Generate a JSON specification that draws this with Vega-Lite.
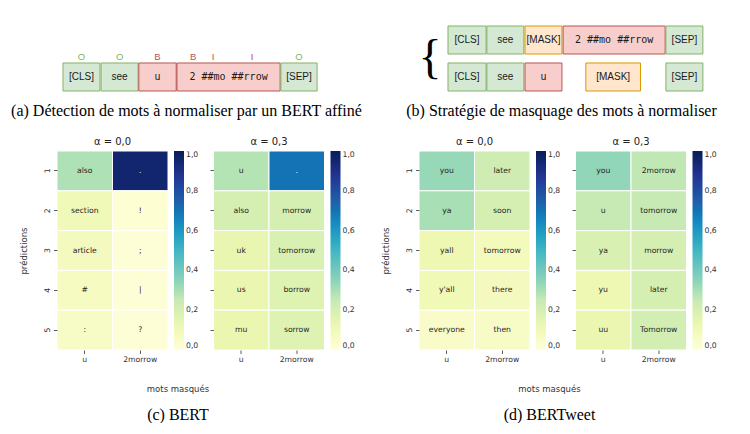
{
  "$schema": "https://vega.github.io/schema/vega-lite/v6.json",
  "background": "white",
  "padding": 0,
  "datasets": {
    "tokA": [
      {"token": "[CLS]", "ligne": "2", "debut": 0, "fin": 0.96, "type": "garde"},
      {"token": "see", "ligne": "2", "debut": 0.99, "fin": 1.95, "type": "garde"},
      {"token": "u", "ligne": "2", "debut": 1.97, "fin": 2.94, "type": "normaliser"},
      {"token": "2 ##mo ##rrow", "ligne": "2", "debut": 2.96, "fin": 5.64, "type": "normaliser"},
      {"token": "[SEP]", "ligne": "2", "debut": 5.66, "fin": 6.6, "type": "garde"}
    ],
    "bio": [
      {"etiquette": "O", "ligne": "2", "pos": 0.48, "classe": "O"},
      {"etiquette": "O", "ligne": "2", "pos": 1.47, "classe": "O"},
      {"etiquette": "B", "ligne": "2", "pos": 2.45, "classe": "BI"},
      {"etiquette": "B", "ligne": "2", "pos": 3.38, "classe": "BI"},
      {"etiquette": "I", "ligne": "2", "pos": 3.9, "classe": "BI"},
      {"etiquette": "I", "ligne": "2", "pos": 4.91, "classe": "BI"},
      {"etiquette": "O", "ligne": "2", "pos": 6.13, "classe": "O"}
    ],
    "tokB": [
      {"token": "[CLS]", "ligne": "1", "debut": 0, "fin": 0.99, "type": "garde"},
      {"token": "see", "ligne": "1", "debut": 1.01, "fin": 1.97, "type": "garde"},
      {"token": "[MASK]", "ligne": "1", "debut": 2.0, "fin": 2.96, "type": "masque"},
      {"token": "2 ##mo ##rrow", "ligne": "1", "debut": 2.99, "fin": 5.64, "type": "normaliser"},
      {"token": "[SEP]", "ligne": "1", "debut": 5.66, "fin": 6.62, "type": "garde"},
      {"token": "[CLS]", "ligne": "2", "debut": 0, "fin": 0.99, "type": "garde"},
      {"token": "see", "ligne": "2", "debut": 1.01, "fin": 1.97, "type": "garde"},
      {"token": "u", "ligne": "2", "debut": 2.0, "fin": 2.96, "type": "normaliser"},
      {"token": "[MASK]", "ligne": "2", "debut": 3.58, "fin": 5.0, "type": "masque"},
      {"token": "[SEP]", "ligne": "2", "debut": 5.66, "fin": 6.62, "type": "garde"}
    ],
    "accolade": [
      {"signe": "{", "ligne": "1", "pos": -0.47}
    ],
    "heat": [
      {"modele": "BERT", "alpha": "0,0", "masque": "u", "rang": 1, "pred": "also", "prob": 0.29},
      {"modele": "BERT", "alpha": "0,0", "masque": "u", "rang": 2, "pred": "section", "prob": 0.1},
      {"modele": "BERT", "alpha": "0,0", "masque": "u", "rang": 3, "pred": "article", "prob": 0.08},
      {"modele": "BERT", "alpha": "0,0", "masque": "u", "rang": 4, "pred": "#", "prob": 0.07},
      {"modele": "BERT", "alpha": "0,0", "masque": "u", "rang": 5, "pred": ":", "prob": 0.06},
      {"modele": "BERT", "alpha": "0,0", "masque": "2morrow", "rang": 1, "pred": ".", "prob": 0.95},
      {"modele": "BERT", "alpha": "0,0", "masque": "2morrow", "rang": 2, "pred": "!", "prob": 0.02},
      {"modele": "BERT", "alpha": "0,0", "masque": "2morrow", "rang": 3, "pred": ";", "prob": 0.01},
      {"modele": "BERT", "alpha": "0,0", "masque": "2morrow", "rang": 4, "pred": "|", "prob": 0.01},
      {"modele": "BERT", "alpha": "0,0", "masque": "2morrow", "rang": 5, "pred": "?", "prob": 0.01},
      {"modele": "BERT", "alpha": "0,3", "masque": "u", "rang": 1, "pred": "u", "prob": 0.28},
      {"modele": "BERT", "alpha": "0,3", "masque": "u", "rang": 2, "pred": "also", "prob": 0.2},
      {"modele": "BERT", "alpha": "0,3", "masque": "u", "rang": 3, "pred": "uk", "prob": 0.14},
      {"modele": "BERT", "alpha": "0,3", "masque": "u", "rang": 4, "pred": "us", "prob": 0.13},
      {"modele": "BERT", "alpha": "0,3", "masque": "u", "rang": 5, "pred": "mu", "prob": 0.13},
      {"modele": "BERT", "alpha": "0,3", "masque": "2morrow", "rang": 1, "pred": ".", "prob": 0.7},
      {"modele": "BERT", "alpha": "0,3", "masque": "2morrow", "rang": 2, "pred": "morrow", "prob": 0.2},
      {"modele": "BERT", "alpha": "0,3", "masque": "2morrow", "rang": 3, "pred": "tomorrow", "prob": 0.19},
      {"modele": "BERT", "alpha": "0,3", "masque": "2morrow", "rang": 4, "pred": "borrow", "prob": 0.17},
      {"modele": "BERT", "alpha": "0,3", "masque": "2morrow", "rang": 5, "pred": "sorrow", "prob": 0.17},
      {"modele": "BERTweet", "alpha": "0,0", "masque": "u", "rang": 1, "pred": "you", "prob": 0.33},
      {"modele": "BERTweet", "alpha": "0,0", "masque": "u", "rang": 2, "pred": "ya", "prob": 0.3},
      {"modele": "BERTweet", "alpha": "0,0", "masque": "u", "rang": 3, "pred": "yall", "prob": 0.12},
      {"modele": "BERTweet", "alpha": "0,0", "masque": "u", "rang": 4, "pred": "y'all", "prob": 0.11},
      {"modele": "BERTweet", "alpha": "0,0", "masque": "u", "rang": 5, "pred": "everyone", "prob": 0.05},
      {"modele": "BERTweet", "alpha": "0,0", "masque": "2morrow", "rang": 1, "pred": "later", "prob": 0.22},
      {"modele": "BERTweet", "alpha": "0,0", "masque": "2morrow", "rang": 2, "pred": "soon", "prob": 0.2},
      {"modele": "BERTweet", "alpha": "0,0", "masque": "2morrow", "rang": 3, "pred": "tomorrow", "prob": 0.09},
      {"modele": "BERTweet", "alpha": "0,0", "masque": "2morrow", "rang": 4, "pred": "there", "prob": 0.08},
      {"modele": "BERTweet", "alpha": "0,0", "masque": "2morrow", "rang": 5, "pred": "then", "prob": 0.06},
      {"modele": "BERTweet", "alpha": "0,3", "masque": "u", "rang": 1, "pred": "you", "prob": 0.34},
      {"modele": "BERTweet", "alpha": "0,3", "masque": "u", "rang": 2, "pred": "u", "prob": 0.25},
      {"modele": "BERTweet", "alpha": "0,3", "masque": "u", "rang": 3, "pred": "ya", "prob": 0.19},
      {"modele": "BERTweet", "alpha": "0,3", "masque": "u", "rang": 4, "pred": "yu", "prob": 0.12},
      {"modele": "BERTweet", "alpha": "0,3", "masque": "u", "rang": 5, "pred": "uu", "prob": 0.13},
      {"modele": "BERTweet", "alpha": "0,3", "masque": "2morrow", "rang": 1, "pred": "2morrow", "prob": 0.26},
      {"modele": "BERTweet", "alpha": "0,3", "masque": "2morrow", "rang": 2, "pred": "tomorrow", "prob": 0.25},
      {"modele": "BERTweet", "alpha": "0,3", "masque": "2morrow", "rang": 3, "pred": "morrow", "prob": 0.2},
      {"modele": "BERTweet", "alpha": "0,3", "masque": "2morrow", "rang": 4, "pred": "later", "prob": 0.2},
      {"modele": "BERTweet", "alpha": "0,3", "masque": "2morrow", "rang": 5, "pred": "Tomorrow", "prob": 0.21}
    ]
  },
  "vconcat": [
    {
      "hconcat": [
        {
          "width": 317,
          "height": 100,
          "title": {"text": "(a) Détection de mots à normaliser par un BERT affiné", "orient": "bottom", "anchor": "middle", "font": "Liberation Serif", "fontSize": 16, "fontWeight": "normal", "color": "black", "offset": 3, "dx": -29},
          "encoding": {
            "y": {"field": "ligne", "type": "ordinal", "scale": {"domain": ["1", "2"], "range": [26, 91], "paddingInner": 0.243, "paddingOuter": 0}, "axis": null}
          },
          "layer": [
            {
              "data": {"name": "tokA"},
              "mark": {"type": "rect", "strokeWidth": 1},
              "encoding": {
                "x": {"field": "debut", "type": "quantitative", "scale": {"domain": [-0.156, 8.078]}, "axis": null},
                "x2": {"field": "fin"},
                "fill": {"field": "type", "type": "nominal", "scale": {"domain": ["garde", "normaliser", "masque"], "range": ["#d5e8d4", "#f8cecc", "#ffe6cc"]}, "legend": null},
                "stroke": {"field": "type", "type": "nominal", "scale": {"domain": ["garde", "normaliser", "masque"], "range": ["#82b366", "#b85450", "#d79b00"]}, "legend": null}
              }
            },
            {
              "data": {"name": "tokA"},
              "transform": [{"filter": "datum.token !== '2 ##mo ##rrow'"}, {"calculate": "(datum.debut + datum.fin) / 2", "as": "milieu"}],
              "mark": {"type": "text", "font": "Liberation Sans", "fontSize": 10, "color": "#1a1a1a"},
              "encoding": {
                "x": {"field": "milieu", "type": "quantitative", "scale": {"domain": [-0.156, 8.078]}, "axis": null},
                "text": {"field": "token"}
              }
            },
            {
              "data": {"name": "tokA"},
              "transform": [{"filter": "datum.token === '2 ##mo ##rrow'"}, {"calculate": "(datum.debut + datum.fin) / 2", "as": "milieu"}],
              "mark": {"type": "text", "font": "DejaVu Sans Mono", "fontSize": 10, "color": "#1a1a1a"},
              "encoding": {
                "x": {"field": "milieu", "type": "quantitative", "scale": {"domain": [-0.156, 8.078]}, "axis": null},
                "text": {"field": "token"}
              }
            },
            {
              "data": {"name": "bio"},
              "mark": {"type": "text", "font": "Liberation Sans", "fontSize": 9.5, "baseline": "bottom", "dy": -1},
              "encoding": {
                "x": {"field": "pos", "type": "quantitative", "scale": {"domain": [-0.156, 8.078]}, "axis": null},
                "y": {"field": "ligne", "type": "ordinal", "bandPosition": 0, "scale": {"domain": ["1", "2"], "range": [26, 91], "paddingInner": 0.243, "paddingOuter": 0}, "axis": null},
                "text": {"field": "etiquette"},
                "color": {"field": "classe", "type": "nominal", "scale": {"domain": ["O", "BI"], "range": ["#82b366", "#b85450"]}, "legend": null}
              }
            }
          ]
        },
        {
          "width": 375,
          "height": 100,
          "title": {"text": "(b) Stratégie de masquage des mots à normaliser", "orient": "bottom", "anchor": "middle", "font": "Liberation Serif", "fontSize": 16, "fontWeight": "normal", "color": "black", "offset": 3},
          "encoding": {
            "y": {"field": "ligne", "type": "ordinal", "scale": {"domain": ["1", "2"], "range": [26, 91], "paddingInner": 0.243, "paddingOuter": 0}, "axis": null}
          },
          "layer": [
            {
              "data": {"name": "tokB"},
              "mark": {"type": "rect", "strokeWidth": 1},
              "encoding": {
                "x": {"field": "debut", "type": "quantitative", "scale": {"domain": [-1.922, 7.818]}, "axis": null},
                "x2": {"field": "fin"},
                "fill": {"field": "type", "type": "nominal", "scale": {"domain": ["garde", "normaliser", "masque"], "range": ["#d5e8d4", "#f8cecc", "#ffe6cc"]}, "legend": null},
                "stroke": {"field": "type", "type": "nominal", "scale": {"domain": ["garde", "normaliser", "masque"], "range": ["#82b366", "#b85450", "#d79b00"]}, "legend": null}
              }
            },
            {
              "data": {"name": "tokB"},
              "transform": [{"filter": "datum.token !== '2 ##mo ##rrow'"}, {"calculate": "(datum.debut + datum.fin) / 2", "as": "milieu"}],
              "mark": {"type": "text", "font": "Liberation Sans", "fontSize": 10, "color": "#1a1a1a"},
              "encoding": {
                "x": {"field": "milieu", "type": "quantitative", "scale": {"domain": [-1.922, 7.818]}, "axis": null},
                "text": {"field": "token"}
              }
            },
            {
              "data": {"name": "tokB"},
              "transform": [{"filter": "datum.token === '2 ##mo ##rrow'"}, {"calculate": "(datum.debut + datum.fin) / 2", "as": "milieu"}],
              "mark": {"type": "text", "font": "DejaVu Sans Mono", "fontSize": 10, "color": "#1a1a1a"},
              "encoding": {
                "x": {"field": "milieu", "type": "quantitative", "scale": {"domain": [-1.922, 7.818]}, "axis": null},
                "text": {"field": "token"}
              }
            },
            {
              "data": {"name": "accolade"},
              "mark": {"type": "text", "font": "Liberation Serif", "fontSize": 48, "baseline": "middle", "color": "black", "dy": 5},
              "encoding": {
                "x": {"field": "pos", "type": "quantitative", "scale": {"domain": [-1.922, 7.818]}, "axis": null},
                "y": {"field": "ligne", "type": "ordinal", "bandPosition": 1, "scale": {"domain": ["1", "2"], "range": [26, 91], "paddingInner": 0.243, "paddingOuter": 0}, "axis": null},
                "text": {"field": "signe"}
              }
            }
          ]
        }
      ],
      "spacing": 0
    },
    {
      "hconcat": [
        {
          "hconcat": [
            {
              "width": 111,
              "height": 199,
              "title": {"text": "α = 0,0"},
              "data": {"name": "heat"},
              "transform": [{"filter": "datum.modele === 'BERT' && datum.alpha === '0,0'"}],
              "encoding": {
                "x": {"field": "masque", "type": "nominal", "sort": ["u", "2morrow"], "scale": {"paddingInner": 0, "paddingOuter": 0}, "axis": {"title": null, "labelAngle": 0}},
                "y": {"field": "rang", "type": "ordinal", "scale": {"paddingInner": 0, "paddingOuter": 0}, "axis": {"title": ["", "prédictions"], "titleLineHeight": 19, "labelAngle": -90, "titlePadding": 15}}
              },
              "layer": [
                {"mark": {"type": "rect", "stroke": "white", "strokeWidth": 1}, "encoding": {"color": {"field": "prob", "type": "quantitative", "scale": {"domain": [0, 0.125, 0.25, 0.375, 0.5, 0.625, 0.75, 0.875, 1], "range": ["#ffffd9", "#edf8b1", "#c7e9b4", "#7fcdbb", "#41b6c4", "#1d91c0", "#225ea8", "#253494", "#081d58"]}, "legend": {"title": null, "values": [0, 0.2, 0.4, 0.6, 0.8, 1], "labelExpr": "replace(format(datum.value, '.1f'), '.', ',')"}}}},
                {"mark": {"type": "text", "font": "DejaVu Sans", "fontSize": 7.7}, "encoding": {"text": {"field": "pred"}, "color": {"condition": {"test": "datum.prob > 0.5", "value": "white"}, "value": "#262626"}}}
              ]
            },
            {
              "width": 111,
              "height": 199,
              "title": {"text": "α = 0,3"},
              "data": {"name": "heat"},
              "transform": [{"filter": "datum.modele === 'BERT' && datum.alpha === '0,3'"}],
              "encoding": {
                "x": {"field": "masque", "type": "nominal", "sort": ["u", "2morrow"], "scale": {"paddingInner": 0, "paddingOuter": 0}, "axis": {"title": null, "labelAngle": 0}},
                "y": {"field": "rang", "type": "ordinal", "scale": {"paddingInner": 0, "paddingOuter": 0}, "axis": {"title": null, "labels": false}}
              },
              "layer": [
                {"mark": {"type": "rect", "stroke": "white", "strokeWidth": 1}, "encoding": {"color": {"field": "prob", "type": "quantitative", "scale": {"domain": [0, 0.125, 0.25, 0.375, 0.5, 0.625, 0.75, 0.875, 1], "range": ["#ffffd9", "#edf8b1", "#c7e9b4", "#7fcdbb", "#41b6c4", "#1d91c0", "#225ea8", "#253494", "#081d58"]}, "legend": {"title": null, "values": [0, 0.2, 0.4, 0.6, 0.8, 1], "labelExpr": "replace(format(datum.value, '.1f'), '.', ',')"}}}},
                {"mark": {"type": "text", "font": "DejaVu Sans", "fontSize": 7.7}, "encoding": {"text": {"field": "pred"}, "color": {"condition": {"test": "datum.prob > 0.5", "value": "white"}, "value": "#262626"}}}
              ]
            }
          ],
          "spacing": 10.5,
          "resolve": {"scale": {"color": "independent"}, "legend": {"color": "independent"}},
          "title": {"text": "mots masqués", "subtitle": "(c) BERT", "orient": "bottom", "anchor": "middle", "font": "DejaVu Sans", "fontSize": 8.5, "fontWeight": "normal", "color": "#333333", "subtitleFont": "Liberation Serif", "subtitleFontSize": 16, "subtitleColor": "black", "subtitlePadding": 13, "offset": 22}
        },
        {
          "hconcat": [
            {
              "width": 111,
              "height": 199,
              "title": {"text": "α = 0,0"},
              "data": {"name": "heat"},
              "transform": [{"filter": "datum.modele === 'BERTweet' && datum.alpha === '0,0'"}],
              "encoding": {
                "x": {"field": "masque", "type": "nominal", "sort": ["u", "2morrow"], "scale": {"paddingInner": 0, "paddingOuter": 0}, "axis": {"title": null, "labelAngle": 0}},
                "y": {"field": "rang", "type": "ordinal", "scale": {"paddingInner": 0, "paddingOuter": 0}, "axis": {"title": "prédictions", "labelAngle": -90, "titlePadding": 15}}
              },
              "layer": [
                {"mark": {"type": "rect", "stroke": "white", "strokeWidth": 1}, "encoding": {"color": {"field": "prob", "type": "quantitative", "scale": {"domain": [0, 0.125, 0.25, 0.375, 0.5, 0.625, 0.75, 0.875, 1], "range": ["#ffffd9", "#edf8b1", "#c7e9b4", "#7fcdbb", "#41b6c4", "#1d91c0", "#225ea8", "#253494", "#081d58"]}, "legend": {"title": null, "values": [0, 0.2, 0.4, 0.6, 0.8, 1], "labelExpr": "replace(format(datum.value, '.1f'), '.', ',')"}}}},
                {"mark": {"type": "text", "font": "DejaVu Sans", "fontSize": 7.7}, "encoding": {"text": {"field": "pred"}, "color": {"condition": {"test": "datum.prob > 0.5", "value": "white"}, "value": "#262626"}}}
              ]
            },
            {
              "width": 111,
              "height": 199,
              "title": {"text": "α = 0,3"},
              "data": {"name": "heat"},
              "transform": [{"filter": "datum.modele === 'BERTweet' && datum.alpha === '0,3'"}],
              "encoding": {
                "x": {"field": "masque", "type": "nominal", "sort": ["u", "2morrow"], "scale": {"paddingInner": 0, "paddingOuter": 0}, "axis": {"title": null, "labelAngle": 0}},
                "y": {"field": "rang", "type": "ordinal", "scale": {"paddingInner": 0, "paddingOuter": 0}, "axis": {"title": null, "labels": false}}
              },
              "layer": [
                {"mark": {"type": "rect", "stroke": "white", "strokeWidth": 1}, "encoding": {"color": {"field": "prob", "type": "quantitative", "scale": {"domain": [0, 0.125, 0.25, 0.375, 0.5, 0.625, 0.75, 0.875, 1], "range": ["#ffffd9", "#edf8b1", "#c7e9b4", "#7fcdbb", "#41b6c4", "#1d91c0", "#225ea8", "#253494", "#081d58"]}, "legend": {"title": null, "values": [0, 0.2, 0.4, 0.6, 0.8, 1], "labelExpr": "replace(format(datum.value, '.1f'), '.', ',')"}}}},
                {"mark": {"type": "text", "font": "DejaVu Sans", "fontSize": 7.7}, "encoding": {"text": {"field": "pred"}, "color": {"condition": {"test": "datum.prob > 0.5", "value": "white"}, "value": "#262626"}}}
              ]
            }
          ],
          "spacing": 10.5,
          "resolve": {"scale": {"color": "independent"}, "legend": {"color": "independent"}},
          "title": {"text": "mots masqués", "subtitle": "(d) BERTweet", "orient": "bottom", "anchor": "middle", "font": "DejaVu Sans", "fontSize": 8.5, "fontWeight": "normal", "color": "#333333", "subtitleFont": "Liberation Serif", "subtitleFontSize": 16, "subtitleColor": "black", "subtitlePadding": 13, "offset": 22}
        }
      ],
      "spacing": 25,
      "resolve": {"scale": {"color": "independent"}, "legend": {"color": "independent"}}
    }
  ],
  "spacing": 17,
  "resolve": {"scale": {"color": "independent", "fill": "independent", "stroke": "independent"}, "legend": {"color": "independent"}},
  "config": {
    "view": {"stroke": null, "fill": "white"},
    "title": {"font": "DejaVu Sans", "fontSize": 10, "fontWeight": "normal", "color": "#222222", "offset": 4},
    "axis": {"labelFont": "DejaVu Sans", "labelFontSize": 7.7, "labelColor": "#333333", "tickColor": "#333333", "tickSize": 3.5, "tickWidth": 0.8, "domain": false, "grid": false, "labelPadding": 2, "titleFont": "DejaVu Sans", "titleFontSize": 8.5, "titleFontWeight": "normal", "titleColor": "#333333"},
    "legend": {"gradientLength": 199, "gradientThickness": 10, "offset": 6, "labelOffset": 7, "labelFont": "DejaVu Sans", "labelFontSize": 7.7, "labelColor": "#333333", "gradientStrokeWidth": 0, "labelBaseline": "middle", "padding": 0}
  }
}
